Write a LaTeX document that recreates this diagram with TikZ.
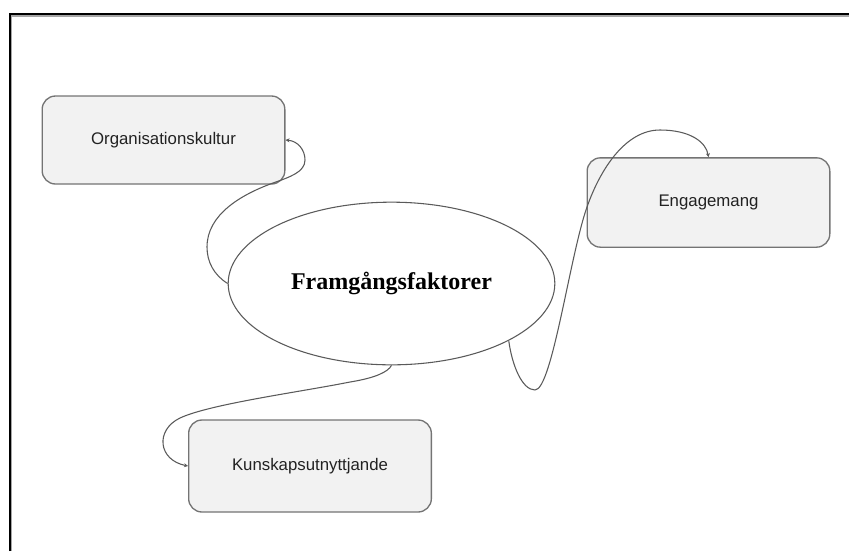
\documentclass[tikz,border=0pt]{standalone}
\usepackage{fontspec}
\setmainfont{Liberation Serif}
\newfontfamily\boxfont{Liberation Sans}
\usetikzlibrary{shapes.geometric,arrows.meta}

\definecolor{boxfill}{HTML}{F2F2F2}
\definecolor{boxline}{HTML}{747474}
\definecolor{linkline}{HTML}{5A5A5A}
\definecolor{labeltext}{HTML}{222222}

\tikzset{
  topic/.style={draw=boxline, line width=1pt, fill=boxfill, rounded corners=10pt,
    minimum width=182pt, minimum height=66pt, inner sep=0pt,
    font=\boxfont\fontsize{12.6}{15}\selectfont, text=labeltext},
  hub/.style={ellipse, draw=linkline, line width=0.8pt, fill=white,
    minimum width=245pt, minimum height=122pt, inner sep=0pt,
    font=\bfseries\fontsize{18}{21}\selectfont},
  link/.style={draw=linkline, line width=0.8pt,
    -{Stealth[length=3pt,width=3pt]}},
  frameline/.style={line width=1.5pt, black},
  frameshade/.style={line width=1pt, black!35}
}

\begin{document}
\begin{tikzpicture}[x=0.75pt, y=-0.75pt]
  \useasboundingbox (0,0) rectangle (849,551);

  % page frame (top and left edges)
  \draw[frameshade] (11.8,551) -- (11.8,16) -- (849,16);
  \draw[frameline] (10,551) -- (10,14.2) -- (849,14.2);

  % central idea and the three topics
  \node[hub] (fr) at (391.5,283.5) {Framgångsfaktorer};
  \node[topic, minimum height=66pt] (org) at (163.5,140) {Organisationskultur};
  \node[topic, minimum height=67pt] (eng) at (708.5,202.5) {Engagemang};
  \node[topic, minimum height=69pt] (kun) at (310,466) {Kunskapsutnyttjande};

  % curved links from the centre to each topic
  \draw[link] (fr.west)
      .. controls (214,275) and (207,262) .. (207,247)
      .. controls (207,215) and (240,195) .. (273,183)
      .. controls (290,177) and (305,172) .. (305,160)
      .. controls (305,150) and (298,141) .. (org.east);

  \draw[link] (fr.-26)
      .. controls (512,365) and (522,390) .. (535,390)
      .. controls (552,390) and (570,255) .. (587,207)
      .. controls (600,170) and (625,130) .. (660,130)
      .. controls (690,130) and (706,142) .. (eng.north);

  \draw[link] (fr.south)
      .. controls (388,372) and (375,378) .. (350,382)
      .. controls (300,392) and (210,404) .. (180,418)
      .. controls (155,430) and (158,460) .. (kun.west);
\end{tikzpicture}
\end{document}
